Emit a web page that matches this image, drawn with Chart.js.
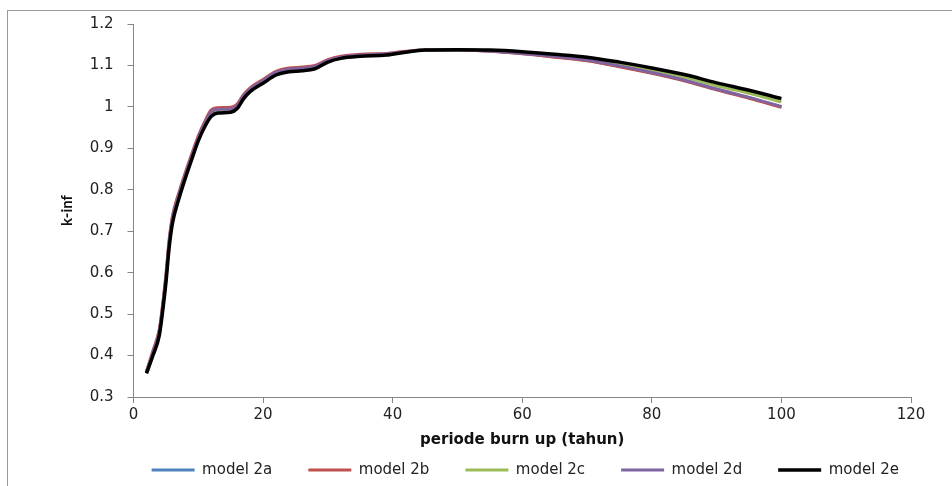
<!DOCTYPE html>
<html>
<head>
<meta charset="utf-8">
<script src="https://cdn.jsdelivr.net/npm/chart.js@4/dist/chart.umd.min.js"></script>
<style>
  html, body { margin: 0; padding: 0; background: #ffffff; overflow: hidden; }
  #wrap { position: relative; width: 952px; height: 486px; }
  #frame { position: absolute; left: 7px; top: 10px; width: 1000px; height: 600px;
           border-left: 1px solid #9a9a9a; border-top: 1px solid #9a9a9a; box-sizing: border-box; }
  canvas { position: absolute; left: 0; top: 0; }
</style>
</head>
<body>
<div id="wrap">
  <div id="frame"></div>
  <canvas id="c" width="952" height="486"></canvas>
</div>
<script>
// burn-up period (years)
const years = [2, 3, 4, 4.6, 5, 5.5, 6, 7, 8, 9, 10, 11, 12, 13, 15, 16, 17, 18, 20, 22, 24, 26, 28, 30, 32, 35, 39, 42, 45, 50, 55, 60, 65, 70, 75, 80, 85, 90, 95, 100];

const model2a = [0.359, 0.407, 0.459, 0.530, 0.586, 0.671, 0.728, 0.786, 0.835, 0.880, 0.923, 0.958, 0.986, 0.992, 0.993, 1.001, 1.025, 1.042, 1.062, 1.082, 1.090, 1.092, 1.096, 1.111, 1.119, 1.124, 1.127, 1.133, 1.137, 1.137, 1.135, 1.129, 1.121, 1.112, 1.098, 1.082, 1.064, 1.042, 1.022, 1.000];
const model2b = [0.362, 0.412, 0.465, 0.538, 0.595, 0.680, 0.736, 0.793, 0.842, 0.887, 0.930, 0.965, 0.993, 0.998, 0.999, 1.007, 1.030, 1.046, 1.066, 1.086, 1.094, 1.096, 1.100, 1.114, 1.122, 1.127, 1.129, 1.134, 1.137, 1.137, 1.134, 1.128, 1.120, 1.111, 1.097, 1.081, 1.063, 1.041, 1.021, 0.999];
const model2c = [0.358, 0.403, 0.454, 0.525, 0.580, 0.665, 0.723, 0.782, 0.832, 0.877, 0.921, 0.955, 0.981, 0.988, 0.990, 0.999, 1.023, 1.040, 1.060, 1.080, 1.088, 1.090, 1.094, 1.110, 1.118, 1.123, 1.126, 1.132, 1.137, 1.138, 1.136, 1.131, 1.124, 1.116, 1.103, 1.089, 1.072, 1.051, 1.033, 1.012];
const model2d = [0.360, 0.408, 0.460, 0.532, 0.588, 0.673, 0.730, 0.788, 0.837, 0.882, 0.925, 0.960, 0.988, 0.994, 0.995, 1.003, 1.027, 1.043, 1.063, 1.083, 1.091, 1.093, 1.097, 1.112, 1.120, 1.125, 1.128, 1.133, 1.137, 1.137, 1.135, 1.129, 1.122, 1.113, 1.099, 1.083, 1.065, 1.043, 1.023, 1.001];
const model2e = [0.357, 0.400, 0.450, 0.520, 0.575, 0.660, 0.718, 0.778, 0.828, 0.874, 0.918, 0.952, 0.977, 0.985, 0.987, 0.996, 1.020, 1.037, 1.057, 1.077, 1.085, 1.087, 1.092, 1.108, 1.117, 1.122, 1.125, 1.132, 1.137, 1.138, 1.137, 1.133, 1.127, 1.120, 1.108, 1.094, 1.078, 1.058, 1.040, 1.020];

const seriesNames = ['model 2a', 'model 2b', 'model 2c', 'model 2d', 'model 2e'];
const seriesValues = [model2a, model2b, model2c, model2d, model2e];
const seriesColors = ['#4F81BD', '#C0504D', '#9BBB59', '#8064A2', '#000000'];
const seriesWidths = [3, 3, 3, 3, 3.5];

const xTicks = [0, 20, 40, 60, 80, 100, 120];
const yTicks = [0.3, 0.4, 0.5, 0.6, 0.7, 0.8, 0.9, 1, 1.1, 1.2];

const xTitle = 'periode burn up (tahun)';
const yTitle = 'k-inf';

const axisColor = '#868686';

const datasets = seriesNames.map((name, i) => ({
  label: name,
  data: years.map((x, j) => ({ x: x, y: seriesValues[i][j] })),
  borderColor: seriesColors[i],
  backgroundColor: seriesColors[i],
  borderWidth: seriesWidths[i],
  pointRadius: 0,
  pointHoverRadius: 0,
  fill: false,
  cubicInterpolationMode: 'monotone',
  order: seriesNames.length - i
}));

// centre the legend row under the plot area
const legendCentre = {
  id: 'legendCentre',
  afterLayout(chart) {
    const lg = chart.legend, ca = chart.chartArea;
    if (!lg) return;
    const shift = (ca.left + ca.right) / 2 + 3 - (lg.left + lg.right) / 2;
    lg.left += shift;
    lg.right += shift;
  }
};

new Chart(document.getElementById('c'), {
  type: 'line',
  data: { datasets },
  plugins: [legendCentre],
  options: {
    responsive: false,
    animation: false,
    events: [],
    layout: { padding: { left: 10, top: 24, right: 41, bottom: -1.5 } },
    plugins: {
      tooltip: { enabled: false },
      legend: {
        position: 'bottom',
        fullSize: true,
        labels: {
          boxWidth: 43,
          boxHeight: 0,
          padding: 36,
          color: '#222222',
          font: { family: 'DejaVu Sans', size: 15 },
          sort: (a, b) => a.datasetIndex - b.datasetIndex
        }
      }
    },
    scales: {
      x: {
        type: 'linear',
        min: 0, max: 120,
        afterBuildTicks: s => { s.ticks = xTicks.map(v => ({ value: v })); },
        afterFit: s => { s.height = 29.5; },
        ticks: {
          color: '#222222',
          padding: 3,
          maxRotation: 0,
          font: { family: 'DejaVu Sans', size: 15 },
          callback: v => String(v)
        },
        grid: { drawOnChartArea: false, drawTicks: true, tickLength: 6, color: axisColor },
        border: { color: axisColor, width: 1 },
        title: {
          display: true,
          text: xTitle,
          color: '#111111',
          font: { family: 'DejaVu Sans', size: 15, weight: 'bold' },
          padding: { top: 0, bottom: -22.5 }
        }
      },
      y: {
        type: 'linear',
        min: 0.3, max: 1.2,
        afterBuildTicks: s => { s.ticks = yTicks.map(v => ({ value: v })); },
        afterFit: s => { s.width = 123.5; },
        ticks: {
          color: '#222222',
          padding: 14,
          font: { family: 'DejaVu Sans', size: 15 },
          callback: v => String(Math.round(v * 10) / 10)
        },
        grid: { drawOnChartArea: false, drawTicks: true, tickLength: 6, color: axisColor },
        border: { color: axisColor, width: 1 },
        title: {
          display: true,
          text: yTitle,
          color: '#111111',
          font: { family: 'Lato', size: 15, weight: 'bold' },
          padding: { top: 48, bottom: 0 }
        }
      }
    }
  }
});
</script>
</body>
</html>
